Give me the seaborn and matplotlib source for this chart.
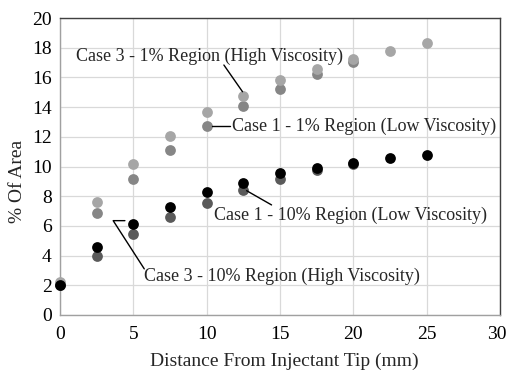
import matplotlib
matplotlib.use("Agg")
import matplotlib.pyplot as plt
import matplotlib.transforms as mtrans
import seaborn as sns
import pandas as pd

# Measured area fraction vs. distance from the injectant tip
dist_case1 = [0, 2.5, 5, 7.5, 10, 12.5, 15, 17.5, 20]
case1_1pct = [2.1, 6.85, 9.15, 11.1, 12.7, 14.05, 15.25, 16.25, 17.05]
case1_10pct = [2.0, 4.0, 5.45, 6.6, 7.55, 8.4, 9.15, 9.75, 10.15]

dist_case3 = [0, 2.5, 5, 7.5, 10, 12.5, 15, 17.5, 20, 22.5, 25]
case3_1pct = [2.2, 7.6, 10.2, 12.05, 13.65, 14.75, 15.8, 16.55, 17.25, 17.8, 18.35]
case3_10pct = [2.0, 4.6, 6.15, 7.3, 8.25, 8.9, 9.55, 9.9, 10.25, 10.55, 10.8]

series = [
    ("Case 1 - 1% Region (Low Viscosity)", dist_case1, case1_1pct, "#868686"),
    ("Case 1 - 10% Region (Low Viscosity)", dist_case1, case1_10pct, "#5a5a5a"),
    ("Case 3 - 1% Region (High Viscosity)", dist_case3, case3_1pct, "#a6a6a6"),
    ("Case 3 - 10% Region (High Viscosity)", dist_case3, case3_10pct, "#000000"),
]

sns.set_theme(style="whitegrid")
plt.rcParams["font.family"] = ["Liberation Serif", "DejaVu Serif"]
plt.rcParams["font.size"] = 13

fig = plt.figure(figsize=(5.08, 3.70), dpi=100)
ax = fig.add_axes([0.118, 0.149, 0.866, 0.802])

for name, xs, ys, color in series:
    df = pd.DataFrame({"x": xs, "y": ys})
    sns.scatterplot(data=df, x="x", y="y", ax=ax, color=color, s=60,
                    linewidth=0, zorder=3, clip_on=False)

ax.set_xlim(0, 30)
ax.set_ylim(0, 20)
ax.set_xticks(range(0, 31, 5))
ax.set_yticks(range(0, 21, 2))
ax.grid(True, color="#d9d9d9", linewidth=0.9)
for side, sp in ax.spines.items():
    sp.set_visible(True)
    sp.set_linewidth(1.0)
    sp.set_color("#a0a0a0" if side in ("left", "bottom") else "#404040")
ax.tick_params(axis="y", length=0, labelsize=14, colors="black", pad=6)
ax.tick_params(axis="x", length=0, labelsize=14, colors="black", pad=8)

# keep the last x tick label inside the figure
last = ax.get_xticklabels()[-1]
last.set_transform(last.get_transform() +
                   mtrans.ScaledTranslation(-3 / 100, 0, fig.dpi_scale_trans))

ax.set_xlabel("Distance From Injectant Tip (mm)", fontsize=14, va="center")
ax.xaxis.set_label_coords(0.51, -0.155)
ax.set_ylabel("% Of Area", fontsize=14, va="center", ha="center")
ax.yaxis.set_label_coords(-0.096, 0.45)

fs = 13
lk = dict(color="black", lw=1.0)
# Case 3 - 1%
ax.text(10.22, 17.44, "Case 3 - 1% Region (High Viscosity)", fontsize=fs,
        ha="center", va="center", zorder=5)
ax.plot([11.18, 12.45], [16.84, 15.04], **lk, zorder=4)
# Case 1 - 1%
ax.plot([10.36, 11.59], [12.73, 12.73], **lk, zorder=4)
ax.text(11.72, 12.73, "Case 1 - 1% Region (Low Viscosity)", fontsize=fs,
        ha="left", va="center", zorder=5)
# Case 1 - 10%
ax.plot([12.73, 14.43], [8.37, 7.41], **lk, zorder=4)
ax.text(10.5, 6.73, "Case 1 - 10% Region (Low Viscosity)", fontsize=fs,
        ha="left", va="center", zorder=5)
# Case 3 - 10%
ax.plot([4.43, 3.63, 5.75], [6.35, 6.35, 3.1], **lk, zorder=4)
ax.text(5.75, 2.63, "Case 3 - 10% Region (High Viscosity)", fontsize=fs,
        ha="left", va="center", zorder=5)

fig.savefig("out.png", dpi=100)
